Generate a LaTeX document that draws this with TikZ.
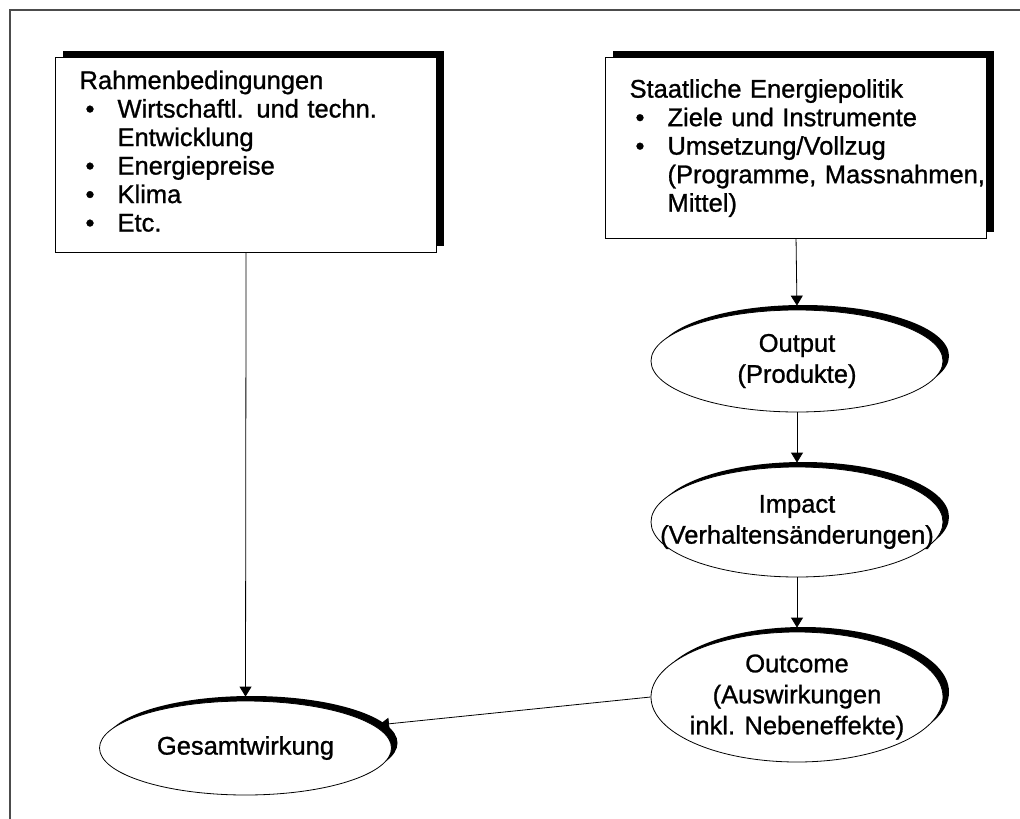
\documentclass[tikz,border=0pt]{standalone}
\usepackage{fontspec}
\setmainfont[FakeBold=1]{Liberation Sans}
\usetikzlibrary{arrows.meta,shapes.geometric,shadows}
\newcommand{\bul}{\hspace*{6pt}\makebox[32pt][l]{\textbullet}}
\newcommand{\ind}{\hspace*{38pt}}
\newcommand{\zw}[1]{\makebox[0pt]{#1}}

\begin{document}
\begin{tikzpicture}[x=1pt,y=-1pt,
    box/.style={draw, line width=1.1pt, fill=white, anchor=north west, align=left,
      text width=333pt, inner xsep=24pt, inner ysep=0pt,
      font=\fontsize{25.5pt}{28.5pt}\selectfont,
      drop shadow={shadow xshift=7pt, shadow yshift=7pt, fill=black, opacity=1}},
    oval/.style={ellipse, draw, line width=0.8pt, fill=white, align=center, inner sep=0pt,
      minimum width=292pt, font=\fontsize{25.5pt}{31pt}\selectfont,
      drop shadow={shadow xshift=6pt, shadow yshift=5pt, fill=black, opacity=1}},
    arr/.style={-{Triangle[length=10pt,width=12pt]}, line width=0.8pt}]
  \useasboundingbox (0,0) rectangle (1020,819);
  \draw[line width=1.2pt, black!70] (10,819) -- (10,10) -- (1020,10);
  % boxes
  \node[box, minimum height=195pt] (rahmen) at (55,57) {Rahmenbedingungen\\
    \bul Wirtschaftl. und techn.\\
    \ind Entwicklung\\
    \bul Energiepreise\\
    \bul Klima\\
    \bul Etc.\rule[-8pt]{0pt}{8pt}};
  \node[box, minimum height=181pt] (staat) at (605,57) {Staatliche Energiepolitik\\
    \bul Ziele und Instrumente\\
    \bul Umsetzung/Vollzug\\
    \ind\mbox{(Programme, Massnahmen,}\\
    \ind Mittel)};
  % ellipses
  \node[oval, minimum height=102pt] (output) at (797,361) {\zw{Output}\\\zw{(Produkte)}};
  \node[oval, minimum height=110pt] (impact) at (797,522) {\zw{Impact}\\\zw{(Verhaltensänderungen)}};
  \node[oval, minimum height=130pt] (outcome) at (797,697)
    {\zw{Outcome}\\\zw{(Auswirkungen}\\\zw{inkl. Nebeneffekte)}};
  \node[oval, minimum height=94pt] (gesamt) at (245.5,748) {\zw{Gesamtwirkung}};
  % connectors
  \draw[arr, shorten >=4pt] (staat.south) -- (output.north);
  \draw[arr, shorten >=4pt] (output.south) -- (impact.north);
  \draw[arr, shorten >=4pt] (impact.south) -- (outcome.north);
  \draw[arr, shorten >=4pt] (rahmen.south) -- (gesamt.north);
  \draw[arr, shorten >=5pt] (outcome.west) -- (gesamt.10);
\end{tikzpicture}
\end{document}
